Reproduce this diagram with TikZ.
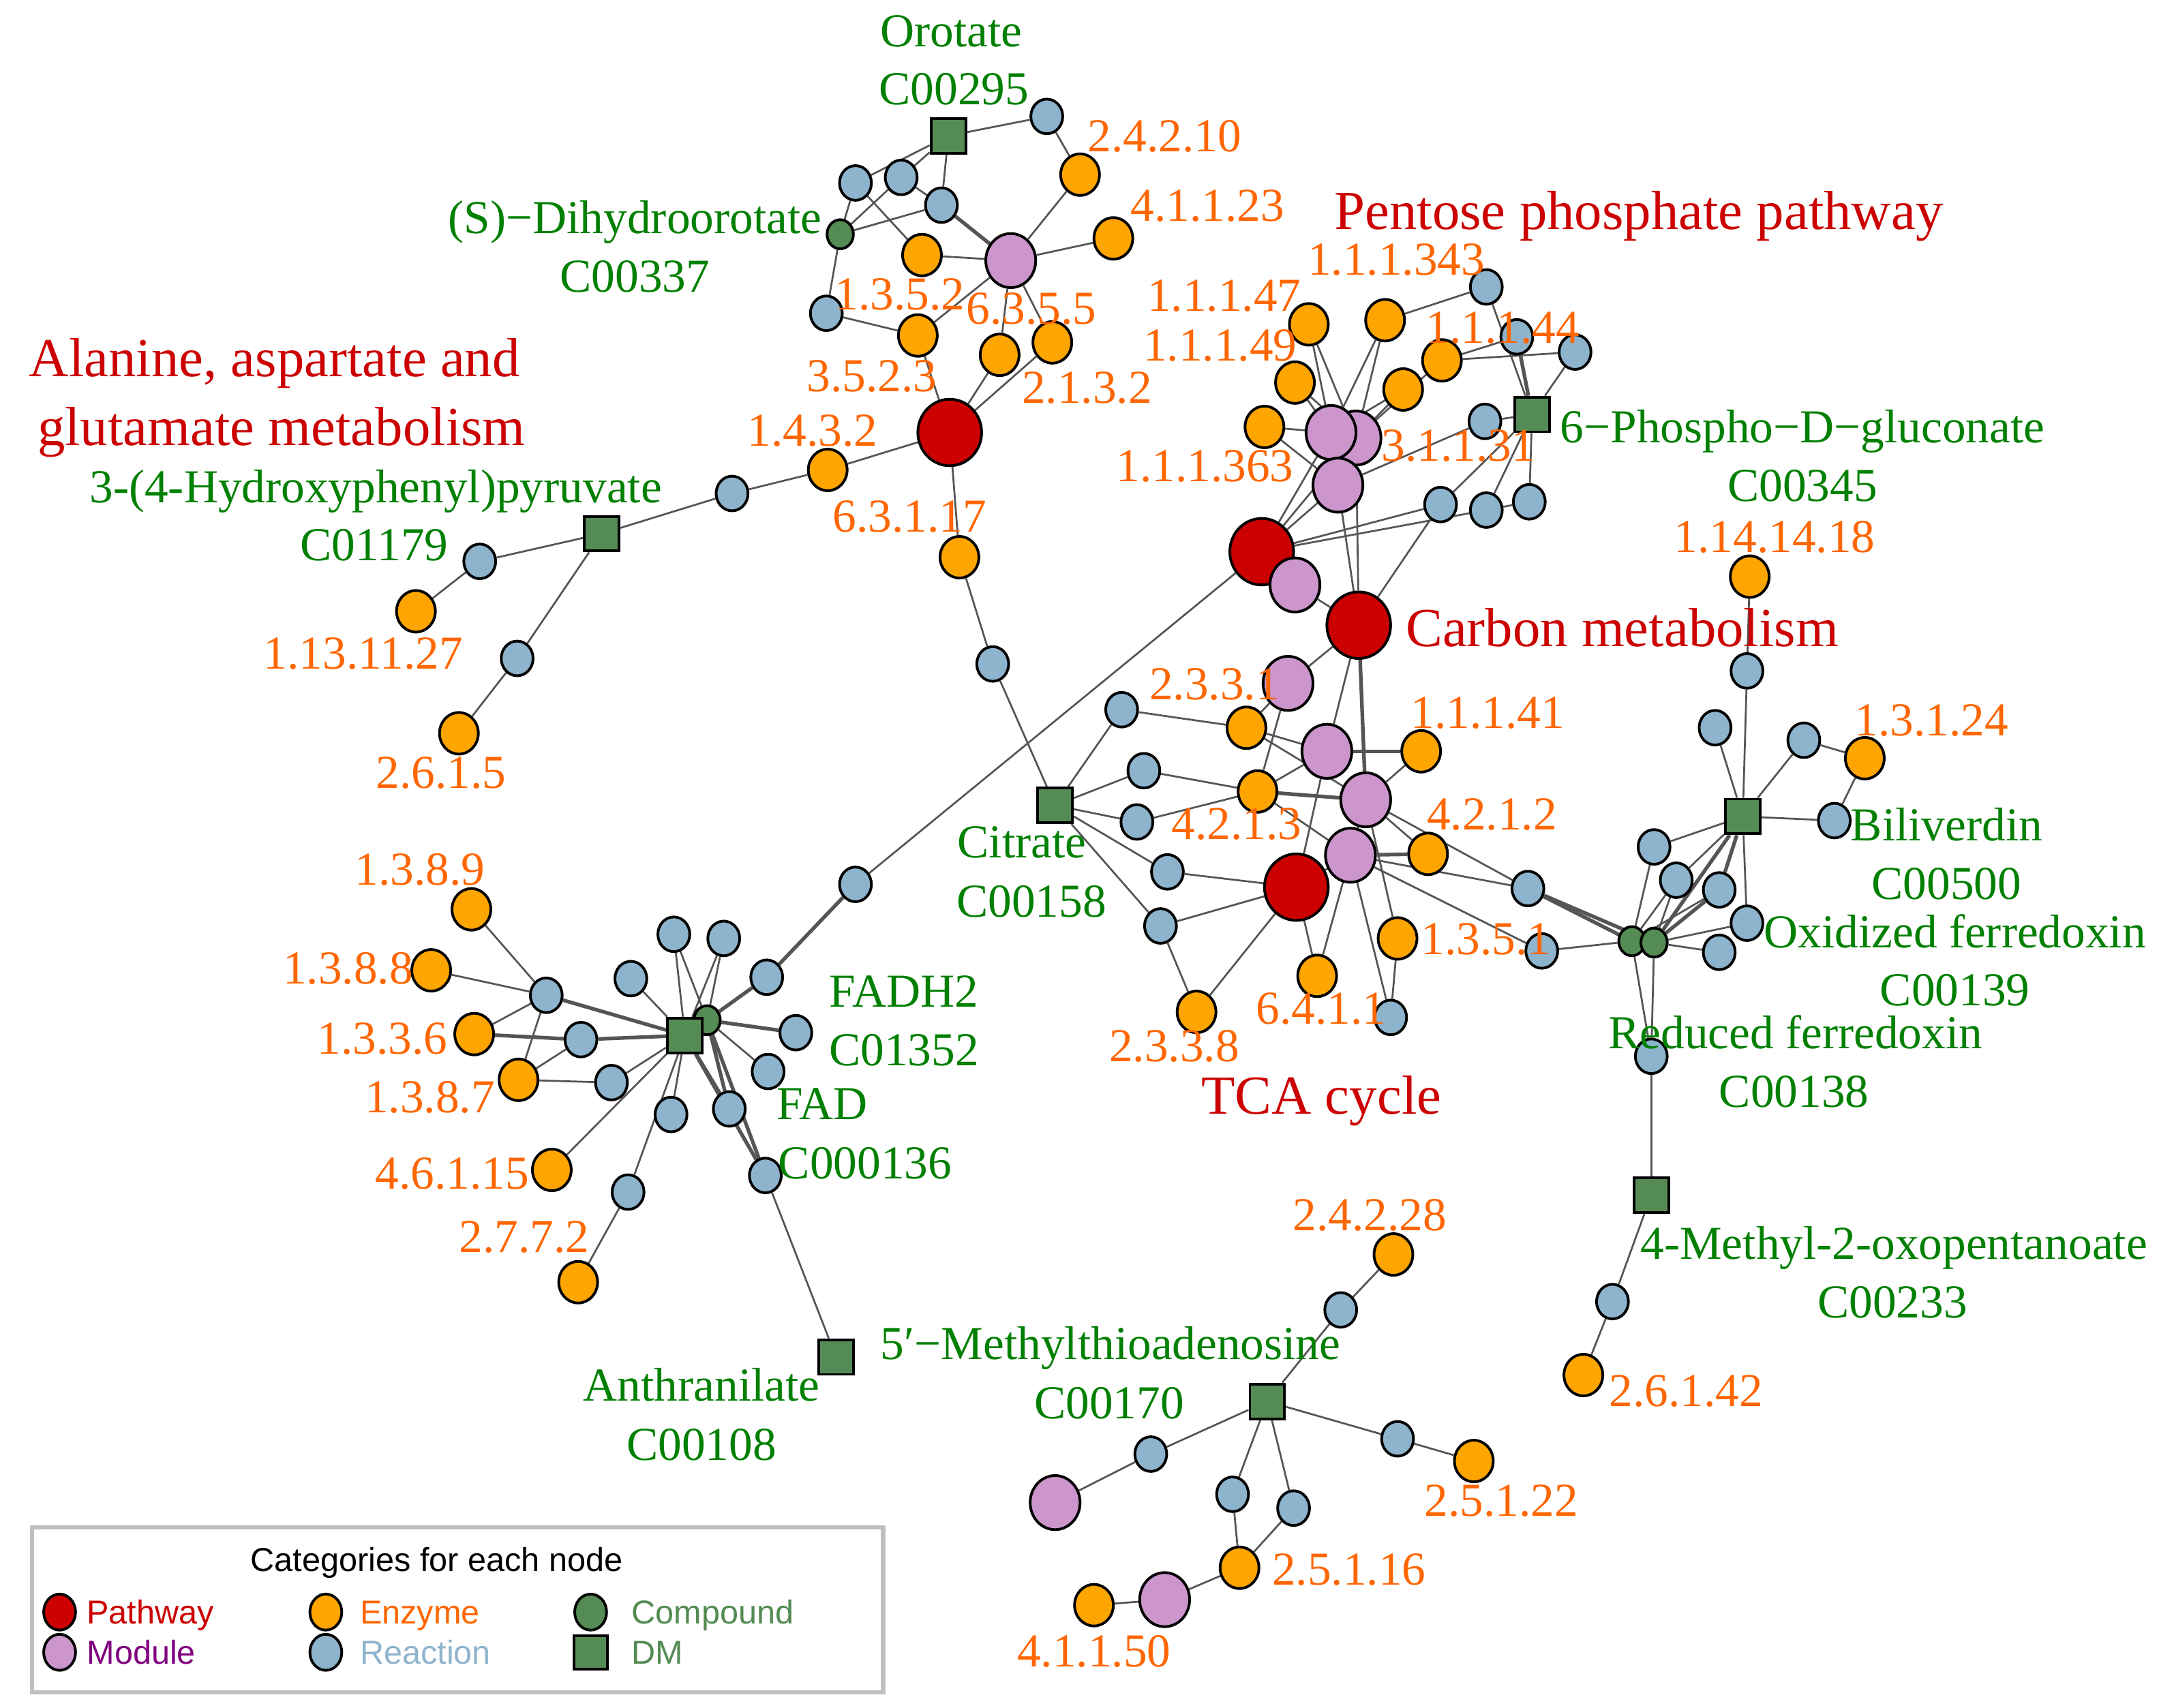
\documentclass[tikz,border=0pt]{standalone}
\usepackage{fontspec}
\setmainfont{Liberation Serif}
\newfontfamily\legfont{Liberation Sans}
\usetikzlibrary{shapes.geometric,backgrounds}
\definecolor{cPath}{HTML}{CC0000}
\definecolor{cMod}{HTML}{CC96CC}
\definecolor{cEnz}{HTML}{FFA500}
\definecolor{cRxn}{HTML}{8DB4CC}
\definecolor{cCpd}{HTML}{558B55}
\definecolor{cEdge}{HTML}{555555}
\definecolor{tEnz}{HTML}{FF6600}
\definecolor{tCpd}{HTML}{008000}
\definecolor{tPath}{HTML}{CC0000}
\definecolor{tMod}{HTML}{800080}
\definecolor{tRxn}{HTML}{8FB4CC}
\definecolor{tLegG}{HTML}{548B54}
\begin{document}
\begin{tikzpicture}[x=0.1mm,y=-0.1mm,
  base/.style={draw=black, line width=0.55pt, inner sep=0pt},
  pw/.style={base, ellipse, fill=cPath, minimum width=4.6mm, minimum height=4.8mm},
  mod/.style={base, ellipse, fill=cMod, minimum width=3.6mm, minimum height=3.9mm},
  enz/.style={base, ellipse, fill=cEnz, minimum width=2.8mm, minimum height=3.0mm},
  rxn/.style={base, ellipse, fill=cRxn, minimum width=2.3mm, minimum height=2.5mm},
  cpd/.style={base, ellipse, fill=cCpd, minimum width=1.9mm, minimum height=2.1mm},
  dm/.style={base, rectangle, fill=cCpd, minimum width=2.5mm, minimum height=2.5mm},
  edge/.style={draw=cEdge, line width=0.38pt},
  edgetwo/.style={draw=cEdge, line width=0.75pt},
  txt/.style={inner sep=0pt, text height=6.6pt, text depth=0pt, font=\fontsize{9.7}{11.6}\selectfont},
  ol/.style={txt, text=tEnz},
  gl/.style={txt, text=tCpd},
  rl/.style={inner sep=0pt, text height=7.7pt, text depth=0pt, text=tPath, font=\fontsize{11.3}{13}\selectfont},
  legt/.style={inner sep=0pt, text height=4.9pt, text depth=0pt, anchor=west, font=\legfont\fontsize{6.8}{8}\selectfont},
  legsym/.style={base, ellipse, minimum width=2.3mm, minimum height=2.6mm}
]
\useasboundingbox (0,0) rectangle (1568,1232);

% ---------------- pathways
\node[pw] (pA) at (685,312) {};
\node[pw] (pB) at (910,398) {};
\node[pw] (pC) at (980,451) {};
\node[pw] (pD) at (935,640) {};
% ---------------- modules
\node[mod] (m1) at (729,188) {};
\node[mod] (m3) at (978,316) {};
\node[mod] (m2) at (960,312) {};
\node[mod] (m4) at (965,350) {};
\node[mod] (m5) at (934,422) {};
\node[mod] (m6) at (929,493) {};
\node[mod] (m7) at (957,542) {};
\node[mod] (m8) at (985,577) {};
\node[mod] (m9) at (974,617) {};
\node[mod] (m10) at (761,1084) {};
\node[mod] (m11) at (840,1154) {};
% ---------------- enzymes
\node[enz] (e1) at (779,126) {};
\node[enz] (e2) at (803,172) {};
\node[enz] (e3) at (665,184) {};
\node[enz] (e4) at (662,242) {};
\node[enz] (e5) at (721,256) {};
\node[enz] (e6) at (759,247) {};
\node[enz] (e7) at (597,339) {};
\node[enz] (e8) at (300,441) {};
\node[enz] (e9) at (331,529) {};
\node[enz] (e10) at (692,402) {};
\node[enz] (e11) at (944,234) {};
\node[enz] (e12) at (999,231) {};
\node[enz] (e13) at (1040,260) {};
\node[enz] (e14) at (934,276) {};
\node[enz] (e15) at (1012,281) {};
\node[enz] (e16) at (912,308) {};
\node[enz] (e17) at (899,525) {};
\node[enz] (e18) at (1025,542) {};
\node[enz] (e19) at (907,571) {};
\node[enz] (e20) at (1030,616) {};
\node[enz] (e21) at (1008,677) {};
\node[enz] (e22) at (950,704) {};
\node[enz] (e23) at (863,730) {};
\node[enz] (e24) at (1262,416) {};
\node[enz] (e25) at (1345,547) {};
\node[enz] (e26) at (1142,992) {};
\node[enz] (e27) at (340,656) {};
\node[enz] (e28) at (311,700) {};
\node[enz] (e29) at (342,746) {};
\node[enz] (e30) at (374,779) {};
\node[enz] (e31) at (398,844) {};
\node[enz] (e32) at (417,925) {};
\node[enz] (e33) at (1005,905) {};
\node[enz] (e34) at (1063,1054) {};
\node[enz] (e35) at (894,1131) {};
\node[enz] (e36) at (789,1158) {};
% ---------------- reactions
\node[rxn] (r1) at (755,84) {};
\node[rxn] (r2) at (617,132) {};
\node[rxn] (r3) at (650,128) {};
\node[rxn] (r4) at (679,148) {};
\node[rxn] (r5) at (596,226) {};
\node[rxn] (r6) at (528,356) {};
\node[rxn] (r7) at (346,405) {};
\node[rxn] (r8) at (373,475) {};
\node[rxn] (r9) at (716,479) {};
\node[rxn] (r10) at (1072,207) {};
\node[rxn] (r11) at (1094,243) {};
\node[rxn] (r12) at (1136,254) {};
\node[rxn] (r13) at (1071,304) {};
\node[rxn] (r14) at (1039,364) {};
\node[rxn] (r15) at (1072,368) {};
\node[rxn] (r16) at (1103,362) {};
\node[rxn] (r17) at (809,512) {};
\node[rxn] (r18) at (825,556) {};
\node[rxn] (r19) at (820,593) {};
\node[rxn] (r20) at (842,629) {};
\node[rxn] (r21) at (837,668) {};
\node[rxn] (r22) at (1102,641) {};
\node[rxn] (r23) at (1112,686) {};
\node[rxn] (r24) at (1003,734) {};
\node[rxn] (r25) at (617,638) {};
\node[rxn] (r26) at (1260,484) {};
\node[rxn] (r27) at (1237,525) {};
\node[rxn] (r28) at (1301,534) {};
\node[rxn] (r29) at (1323,592) {};
\node[rxn] (r30) at (1193,611) {};
\node[rxn] (r31) at (1209,635) {};
\node[rxn] (r32) at (1240,642) {};
\node[rxn] (r33) at (1260,666) {};
\node[rxn] (r34) at (1240,687) {};
\node[rxn] (r35) at (1191,762) {};
\node[rxn] (r36) at (1163,939) {};
\node[rxn] (r37) at (394,718) {};
\node[rxn] (r38) at (486,674) {};
\node[rxn] (r39) at (522,677) {};
\node[rxn] (r40) at (455,706) {};
\node[rxn] (r41) at (553,705) {};
\node[rxn] (r42) at (419,750) {};
\node[rxn] (r43) at (574,745) {};
\node[rxn] (r44) at (441,781) {};
\node[rxn] (r45) at (554,773) {};
\node[rxn] (r46) at (484,804) {};
\node[rxn] (r47) at (526,800) {};
\node[rxn] (r48) at (453,860) {};
\node[rxn] (r49) at (552,848) {};
\node[rxn] (r50) at (967,945) {};
\node[rxn] (r51) at (830,1049) {};
\node[rxn] (r52) at (1008,1038) {};
\node[rxn] (r53) at (889,1078) {};
\node[rxn] (r54) at (933,1088) {};
% ---------------- compounds
\node[cpd] (c1) at (606,169) {};
\node[cpd] (c2) at (510,736) {};
\node[cpd] (c3) at (1177,679) {};
\node[cpd] (c4) at (1193,680) {};
% ---------------- DM
\node[dm] (d1) at (684,98) {};
\node[dm] (d2) at (434,385) {};
\node[dm] (d3) at (761,581) {};
\node[dm] (d4) at (1105,299) {};
\node[dm] (d5) at (1257,589) {};
\node[dm] (d6) at (1191,862) {};
\node[dm] (d7) at (494,747) {};
\node[dm] (d8) at (603,979) {};
\node[dm] (d9) at (914,1011) {};

% ---------------- edges
\begin{scope}[on background layer]
\fill[white] (0,0) rectangle (1568,1232);
\foreach \a/\b in {d1/r1, r1/e1, e1/m1, d1/r2, d1/r3, d1/r4, r2/c1, r2/e3, r3/c1, r3/r4, c1/r4,
  c1/r5, r5/e4, e4/m1, e3/m1, m1/e2, m1/e5, m1/e6, e4/pA, e5/pA, e6/pA, pA/e7, pA/e10,
  e7/r6, r6/d2, d2/r7, r7/e8, d2/r8, r8/e9, e10/r9, r9/d3,
  e11/m2, e11/m3, e12/m2, e12/m3, r10/e12, r10/d4, e13/r11, e13/r12, r12/d4,
  e15/m2, e15/m3, e13/m3, e14/m2, e14/m3, e16/m2, e16/m4, r13/d4, m4/r13, d4/r16, d4/r15, d4/r14,
  r14/pB, r15/pB, r16/r15, r14/pC, m2/pB, m3/pB, m4/pB, m4/pC, m3/pC, pB/m5, m5/pC, pB/r25,
  pC/m6, pC/m7, r17/e17, r17/d3, e17/m6, e17/m7, e17/m8, m6/e19, e18/m8, r18/d3, r18/e19,
  e19/m7, e19/m8, r19/d3, r19/e19, e19/m9, d3/r20, r20/pD, d3/r21, r21/pD, r21/e23, pD/e23,
  m7/pD, m8/m9, m8/r22, m8/e20, m9/r22, m9/r23, m9/e22, pD/e22, m9/r24, m8/e21, e21/r24, pD/m9,
  r23/c3,
  e24/r26, r26/d5, r27/d5, r28/d5, r28/e25, e25/r29, d5/r29, d5/r30, d5/r31, d5/r33,
  r30/c3, r31/c3, r31/c4, r32/c3, r33/c4, r34/c4, c3/r35, c4/r35, r35/d6, d6/r36, r36/e26,
  e27/r37, e28/r37, e29/r37, r37/e30, e30/r42, e30/r44, r44/d7, r40/d7, r38/c2, r39/c2,
  r38/d7, r39/d7, c2/r45, d7/r46, d7/r48, r48/e32, d7/e31, r49/d8,
  e33/r50, r50/d9, d9/r51, r51/m10, d9/r52, r52/e34, d9/r53, r53/e35, d9/r54, r54/e35,
  e35/m11, m11/e36}
  \draw[edge] (\a) -- (\b);
\foreach \a/\b in {r4/m1, r11/d4, pC/m8, e18/m7, m9/e20, r22/c3, r22/c4, d5/r32, d5/c4, r32/c4,
  r37/d7, e29/r42, r42/d7, r41/c2, r25/r41, c2/r43, c2/r47, d7/r47, c2/r49, d7/r49, e19/m8}
  \draw[edgetwo] (\a) -- (\b);
\end{scope}

% ---------------- labels (orange enzymes)
\node[ol] (t1) at (840,98) {2.4.2.10};
\node[ol] (t2) at (871,148) {4.1.1.23};
\node[ol] (t3) at (649,212) {1.3.5.2};
\node[ol] (t4) at (744,222) {6.3.5.5};
\node[ol] (t5) at (629,271) {3.5.2.3};
\node[ol] (t6) at (784,279) {2.1.3.2};
\node[ol] (t7) at (586,310) {1.4.3.2};
\node[ol] (t8) at (656,372) {6.3.1.17};
\node[ol] (t9) at (262,471) {1.13.11.27};
\node[ol] (t10) at (318,557) {2.6.1.5};
\node[ol] (t11) at (1007,187) {1.1.1.343};
\node[ol] (t12) at (883,213) {1.1.1.47};
\node[ol] (t13) at (880,249) {1.1.1.49};
\node[ol] (t14) at (1084,236) {1.1.1.44};
\node[ol] (t15) at (1052,321) {3.1.1.31};
\node[ol] (t16) at (869,336) {1.1.1.363};
\node[ol] (t17) at (1280,387) {1.14.14.18};
\node[ol] (t18) at (876,493) {2.3.3.1};
\node[ol] (t19) at (1073,514) {1.1.1.41};
\node[ol] (t20) at (1393,519) {1.3.1.24};
\node[ol] (t21) at (892,594) {4.2.1.3};
\node[ol] (t22) at (1076,587) {4.2.1.2};
\node[ol] (t23) at (1072,677) {1.3.5.1};
\node[ol] (t24) at (953,727) {6.4.1.1};
\node[ol] (t25) at (847,754) {2.3.3.8};
\node[ol] (t26) at (303,627) {1.3.8.9};
\node[ol] (t27) at (251,698) {1.3.8.8};
\node[ol] (t28) at (276,749) {1.3.3.6};
\node[ol] (t29) at (310,791) {1.3.8.7};
\node[ol] (t30) at (326,846) {4.6.1.15};
\node[ol] (t31) at (378,892) {2.7.7.2};
\node[ol] (t32) at (988,876) {2.4.2.28};
\node[ol] (t33) at (1216,1003) {2.6.1.42};
\node[ol] (t34) at (1083,1082) {2.5.1.22};
\node[ol] (t35) at (973,1132) {2.5.1.16};
\node[ol] (t36) at (789,1191) {4.1.1.50};
% ---------------- labels (green compounds)
\node[gl] (g1) at (686,22) {Orotate};
\node[gl] (g2) at (688,64) {C00295};
\node[gl] (g3) at (458,157) {(S)−Dihydroorotate};
\node[gl] (g4) at (458,199) {C00337};
\node[gl] (g5) at (271,351) {3-(4-Hydroxyphenyl)pyruvate};
\node[gl] (g6) at (270,393) {C01179};
\node[gl] (g7) at (1300,308) {6−Phospho−D−gluconate};
\node[gl] (g8) at (1300,350) {C00345};
\node[gl] (g9) at (737,607) {Citrate};
\node[gl] (g10) at (744,650) {C00158};
\node[gl] (g11) at (1404,595) {Biliverdin};
\node[gl] (g12) at (1404,637) {C00500};
\node[gl] (g13) at (1410,672) {Oxidized ferredoxin};
\node[gl] (g14) at (1410,714) {C00139};
\node[gl] (g15) at (1295,745) {Reduced ferredoxin};
\node[gl] (g16) at (1294,787) {C00138};
\node[gl] (g17) at (652,715) {FADH2};
\node[gl] (g18) at (652,757) {C01352};
\node[gl] (g19) at (593,796) {FAD};
\node[gl] (g20) at (624,839) {C000136};
\node[gl] (g21) at (1366,897) {4-Methyl-2-oxopentanoate};
\node[gl] (g22) at (1365,939) {C00233};
\node[gl] (g23) at (801,969) {5′−Methylthioadenosine};
\node[gl] (g24) at (800,1012) {C00170};
\node[gl] (g25) at (506,999) {Anthranilate};
\node[gl] (g26) at (506,1042) {C00108};
% ---------------- labels (red pathways)
\node[rl] (h1) at (1182,152) {Pentose phosphate pathway};
\node[rl] (h2) at (198,258) {Alanine, aspartate and};
\node[rl] (h3) at (203,308) {glutamate metabolism};
\node[rl] (h4) at (1170,453) {Carbon metabolism};
\node[rl] (h5) at (953,790) {TCA cycle};

% ---------------- legend
\draw[draw=black!25, line width=0.9pt] (23,1102) rectangle (637,1221);
\node[inner sep=0pt, text height=4.9pt, text depth=0pt, font=\legfont\fontsize{6.8}{8}\selectfont] (lt) at (315,1125) {Categories for each node};
\node[legsym, fill=cPath] (lk1) at (43,1163) {};
\node[legsym, fill=cMod] (lk2) at (43,1192) {};
\node[legsym, fill=cEnz] (lk3) at (235,1163) {};
\node[legsym, fill=cRxn] (lk4) at (235,1192) {};
\node[legsym, fill=cCpd] (lk5) at (426,1163) {};
\node[base, rectangle, fill=cCpd, minimum width=2.4mm, minimum height=2.4mm] (lk6) at (426,1192) {};
\node[legt, text=tPath] (lx1) at (62,1163) {Pathway};
\node[legt, text=tMod] (lx2) at (62,1192) {Module};
\node[legt, text=tEnz] (lx3) at (259,1163) {Enzyme};
\node[legt, text=tRxn] (lx4) at (259,1192) {Reaction};
\node[legt, text=tLegG] (lx5) at (455,1163) {Compound};
\node[legt, text=tLegG] (lx6) at (455,1192) {DM};
\end{tikzpicture}
\end{document}
